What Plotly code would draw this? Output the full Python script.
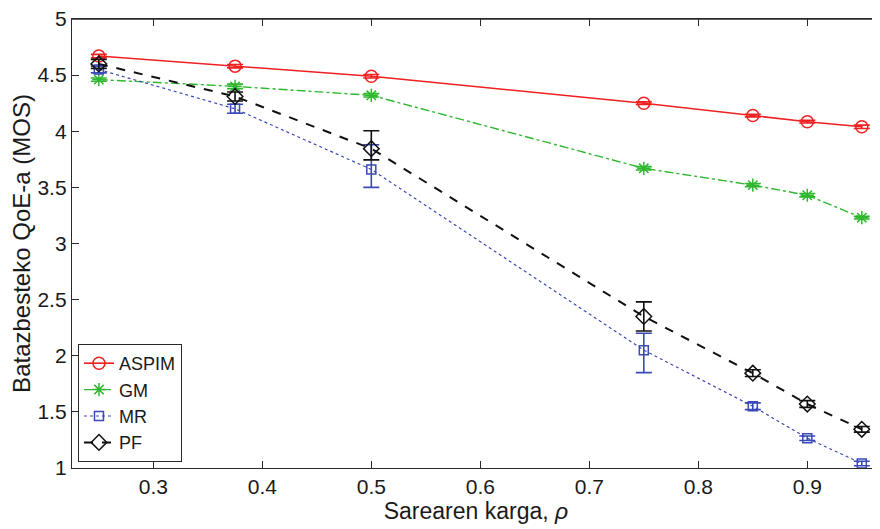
import plotly.graph_objects as go

rho = [0.25, 0.375, 0.5, 0.75, 0.85, 0.9, 0.95]

aspim = [4.67, 4.58, 4.49, 4.25, 4.14, 4.085, 4.04]
aspim_err = [0.015, 0.015, 0.015, 0.012, 0.012, 0.012, 0.015]

gm = [4.46, 4.40, 4.32, 3.67, 3.52, 3.43, 3.23]
gm_err = [0.015, 0.02, 0.015, 0.015, 0.015, 0.015, 0.012]

mr = [4.55, 4.20, 3.66, 2.05, 1.55, 1.265, 1.04]
mr_up = [0.03, 0.04, 0.22, 0.15, 0.03, 0.02, 0.02]
mr_dn = [0.03, 0.04, 0.16, 0.20, 0.03, 0.02, 0.02]

pf = [4.60, 4.31, 3.845, 2.35, 1.845, 1.57, 1.345]
pf_up = [0.04, 0.04, 0.16, 0.13, 0.03, 0.03, 0.025]
pf_dn = [0.04, 0.04, 0.10, 0.13, 0.03, 0.03, 0.025]

x_ticks = [0.3, 0.4, 0.5, 0.6, 0.7, 0.8, 0.9]
y_ticks = [1, 1.5, 2, 2.5, 3, 3.5, 4, 4.5, 5]

FONT = "Liberation Sans, Arial, sans-serif"
AXC = "#2a2a2a"

fig = go.Figure()

def add(name, y, up, dn, color, dash, symbol, size, lw):
    fig.add_trace(go.Scatter(
        x=rho, y=y, name=name, mode="lines+markers",
        line=dict(color=color, width=lw, dash=dash),
        marker=dict(symbol=symbol, size=size, color=color,
                    line=dict(color=color, width=1.5)),
        error_y=dict(type="data", array=up, arrayminus=dn, visible=True,
                     color=color, thickness=1.6, width=8),
    ))

add("ASPIM", aspim, aspim_err, aspim_err, "#ee2020", "solid", "circle-open", 12, 1.6)
add("GM", gm, gm_err, gm_err, "#2fb82f", "dashdot", "asterisk-open", 11, 1.4)
add("MR", mr, mr_up, mr_dn, "#3a4ab8", "dot", "square-open", 9, 1.2)
add("PF", pf, pf_up, pf_dn, "#111111", "dash", "diamond-open", 12, 2.0)

axis_common = dict(
    showline=True, linecolor=AXC, linewidth=1.3,
    ticks="inside", ticklen=7, tickcolor=AXC, tickwidth=1.2,
    showgrid=False, zeroline=False, ticklabeloverflow="allow",
    automargin=False,
    tickfont=dict(family=FONT, size=21, color="#1a1a1a"),
)

# the page body adds an 8px offset; margins compensate for it
fig.update_layout(
    width=880, height=529,
    paper_bgcolor="white", plot_bgcolor="white",
    margin=dict(l=64, r=8, t=11, b=69),
    font=dict(family=FONT, color="#1a1a1a"),
    xaxis=dict(range=[0.2254, 0.9667], tickvals=x_ticks,
               ticktext=[str(v) for v in x_ticks], mirror="allticks",
               title=dict(text="Sarearen karga, <i>ρ</i>",
                          font=dict(family=FONT, size=23), standoff=2),
               **axis_common),
    yaxis=dict(range=[1, 5], tickvals=y_ticks,
               ticktext=[("%g" % v) for v in y_ticks], mirror="ticks",
               title=dict(text="Batazbesteko QoE-a (MOS)",
                          font=dict(family=FONT, size=24), standoff=6),
               **axis_common),
    legend=dict(x=0.0074, y=0.0134, xanchor="left", yanchor="bottom",
                bgcolor="white", bordercolor=AXC, borderwidth=1,
                font=dict(family=FONT, size=18, color="#1a1a1a"),
                itemwidth=30, tracegroupgap=0),
    showlegend=True,
)

# explicit top frame line (box outline as in the original axes)
fig.add_shape(type="line", xref="paper", yref="paper", x0=0, x1=1, y0=1, y1=1,
              line=dict(color=AXC, width=1.5), layer="above")

fig.write_html("out.html")
